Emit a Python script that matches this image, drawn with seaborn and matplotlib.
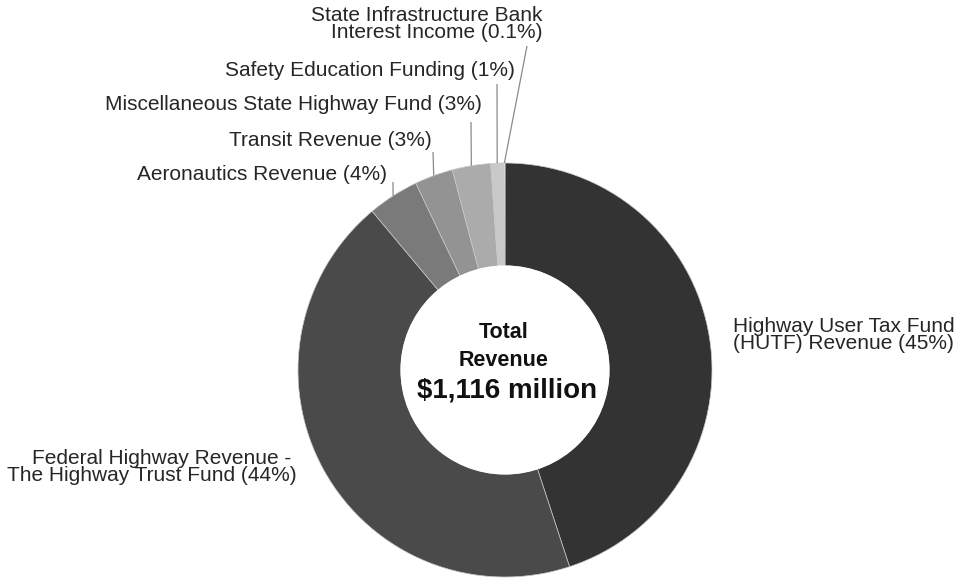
import matplotlib
matplotlib.use("Agg")
import matplotlib.pyplot as plt
from matplotlib.patches import Circle
import numpy as np
import seaborn as sns

# Revenue sources (percent of total)
sources = [
    "Highway User Tax Fund\n(HUTF) Revenue (45%)",
    "Federal Highway Revenue - \nThe Highway Trust Fund (44%)",
    "Aeronautics Revenue (4%)",
    "Transit Revenue (3%)",
    "Miscellaneous State Highway Fund (3%)",
    "Safety Education Funding (1%)",
    "State Infrastructure Bank\nInterest Income (0.1%)",
]
shares = [45, 44, 4, 3, 3, 1, 0.1]
total_revenue = "$1,116 million"

colors = ["#333333", "#4a4a4a", "#7a7a7a", "#939393", "#ababab", "#c9c9c9", "#e2e2e2"]

sns.set_theme(style="white")
plt.rcParams["font.family"] = ["Liberation Sans", "DejaVu Sans"]

W, H = 956, 582
fig = plt.figure(figsize=(W / 100, H / 100), dpi=100)
ax = fig.add_axes([0, 0, 1, 1])

cx, cy, R, ring = 505, H - 370, 207, 103
wedges, _ = ax.pie(
    shares, colors=colors, startangle=90, counterclock=False,
    center=(cx, cy), radius=R,
    wedgeprops=dict(width=ring, edgecolor="#c8c8c8", linewidth=0.5),
)
# clean white hole in the middle of the ring
ax.add_patch(Circle((cx, cy), R - ring + 0.6, facecolor="white", edgecolor="none", zorder=2))
ax.set_xlim(0, W)
ax.set_ylim(0, H)
ax.set_aspect("equal")
ax.axis("off")

txt = dict(color="#262626", fontsize=15, linespacing=0.9)

# label anchor (x, y from top, alignment) and the far end of each leader line
label_pos = [
    (733, 335, "left", None),
    (297, 467, "right", None),
    (387, 174, "right", (393, 182)),
    (432, 141, "right", (433, 152)),
    (482, 105, "right", (471, 122)),
    (515, 70, "right", (497, 84)),
    (543, 24, "right", (527, 46)),
]

for w, text, (lx, ly, ha, lead) in zip(wedges, sources, label_pos):
    ax.text(lx, H - ly, text, ha=ha, va="center", multialignment=ha, **txt)
    if lead is not None:
        mid = np.deg2rad((w.theta1 + w.theta2) / 2)
        px, py = cx + R * np.cos(mid), cy + R * np.sin(mid)
        ax.plot([px, lead[0]], [py, H - lead[1]], color="#8a8a8a", lw=0.9,
                solid_capstyle="butt", zorder=3)

ax.text(504, H - 333, "Total", ha="center", va="center", fontsize=15.5,
        fontweight="bold", color="#111111", zorder=4)
ax.text(504, H - 360, "Revenue", ha="center", va="center", fontsize=15.5,
        fontweight="bold", color="#111111", zorder=4)
ax.text(507, H - 391, total_revenue, ha="center", va="center", fontsize=20,
        fontweight="bold", color="#111111", zorder=4)

fig.savefig("out.png", dpi=100, facecolor="white")
